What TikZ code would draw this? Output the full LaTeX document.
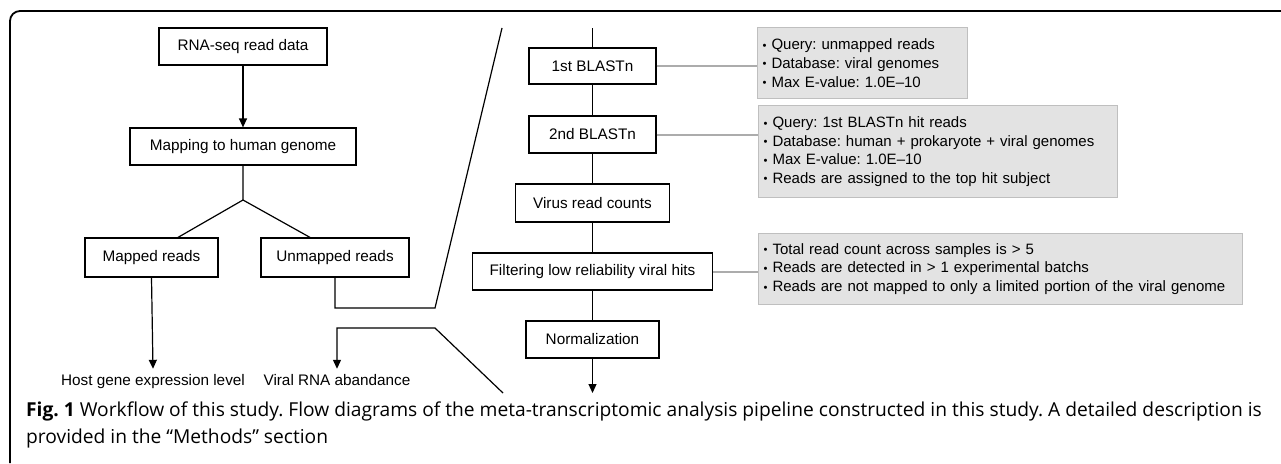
\documentclass[tikz,border=0pt]{standalone}
\usepackage{fontspec}
\setmainfont{Liberation Sans}
\newfontfamily\capfont{Open Sans}
\usetikzlibrary{arrows.meta}
\frenchspacing
\newcommand{\bul}{\raisebox{0.5pt}{\scalebox{0.75}{•}}\ }
\begin{document}
\begin{tikzpicture}[x=1pt,y=-1pt,
  txt/.style={font=\fontsize{15.3}{18.6}\selectfont},
  gtxt/.style={font=\fontsize{15}{18.6}\selectfont},
  box/.style={txt, draw, line width=1.2pt, fill=white, minimum height=37pt, inner sep=0pt},
  plain/.style={txt, inner xsep=3pt, inner ysep=5pt, text height=11pt, text depth=3pt},
  gbox/.style={gtxt, draw=gray!50, fill=gray!22, line width=1.2pt, anchor=north west, align=left, inner xsep=5pt, inner ysep=0pt},
  link/.style={line width=1.2pt},
  arr/.style={line width=1.2pt, -{Triangle[width=8pt,length=9pt]}},
  gline/.style={line width=2pt, draw=gray!65}]
\useasboundingbox (0,0) rectangle (1281,463);
% frame
\draw[line width=1.8pt, rounded corners=10pt] (10,463) -- (10,11) -- (1281,11);
% left part
\node[box, minimum width=168pt] (rna) at (243,46.5) {RNA-seq read data};
\node[box, minimum width=226pt] (map) at (243,146.5) {Mapping to human genome};
\coordinate (apex) at (243,200);
\node[box, minimum width=133pt, minimum height=39pt] (mr) at (151.5,257.5) {Mapped reads};
\node[box, minimum width=148pt, minimum height=39pt] (ur) at (335,257.5) {Unmapped reads};
\node[plain] (host) at (153,381) {Host gene expression level};
\node[plain] (vir) at (337,381) {Viral RNA abandance};
\draw[arr] (rna) -- (map);
\draw[link] (map.south) -- (apex) -- ([xshift=26.5pt]mr.north);
\draw[link] (apex) -- ([xshift=-25pt]ur.north);
\draw[arr] (mr.south) -- (host.north);
\coordinate (z1) at (435,308);
\coordinate (z2) at (502,28);
\coordinate (z3) at (503,393);
\coordinate (z4) at (435,328);
\draw[link] (ur.south) |- (z1) -- (z2);
\draw[arr] (z3) -- (z4) -| (vir.north);
% right column
\coordinate (top) at (592.5,28);
\node[box, minimum width=127pt, minimum height=36pt] (b1) at (592.5,66) {1st BLASTn};
\node[box, minimum width=127pt] (b2) at (592.5,134.5) {2nd BLASTn};
\node[box, minimum width=154pt, minimum height=38pt] (b3) at (592.5,203) {Virus read counts};
\node[box, minimum width=240pt] (b4) at (592.5,271.5) {Filtering low reliability viral hits};
\node[box, minimum width=133pt] (b5) at (592.5,339.5) {Normalization};
\coordinate (end) at (592.5,393);
\draw[link] (top) -- (b1);
\draw[link] (b1) -- (b2);
\draw[link] (b2) -- (b3);
\draw[link] (b3) -- (b4);
\draw[link] (b4) -- (b5);
\draw[arr] (b5) -- (end);
% grey boxes
\node[gbox, text width=200pt, minimum height=71pt] (g1) at (757,27)
  {\bul Query: unmapped reads\\ \bul Database: viral genomes\\ \bul Max E-value: 1.0E–10};
\node[gbox, text width=349pt, minimum height=92pt] (g2) at (758,105)
  {\bul Query: 1st BLASTn hit reads\\ \bul Database: human + prokaryote + viral genomes\\ \bul Max E-value: 1.0E–10\\ \bul Reads are assigned to the top hit subject};
\node[gbox, text width=474pt, minimum height=71pt] (g3) at (758,233)
  {\bul Total read count across samples is > 5\\ \bul Reads are detected in > 1 experimental batchs\\ \bul Reads are not mapped to only a limited portion of the viral genome};
\draw[gline] (b1.east) -- (b1.east -| g1.west);
\draw[gline] (b2.east) -- (b2.east -| g2.west);
\draw[gline] (b4.east) -- (b4.east -| g3.west);
% caption
\node[anchor=base west, inner sep=0pt, font=\capfont\fontsize{19.2}{22}\selectfont] (cap1) at (26,416)
  {\textbf{Fig. 1} Workflow of this study. Flow diagrams of the meta-transcriptomic analysis pipeline constructed in this study. A detailed description is};
\node[anchor=base west, inner sep=0pt, font=\capfont\fontsize{19.2}{22}\selectfont] (cap2) at (26,443)
  {provided in the “Methods” section};
\end{tikzpicture}
\end{document}
